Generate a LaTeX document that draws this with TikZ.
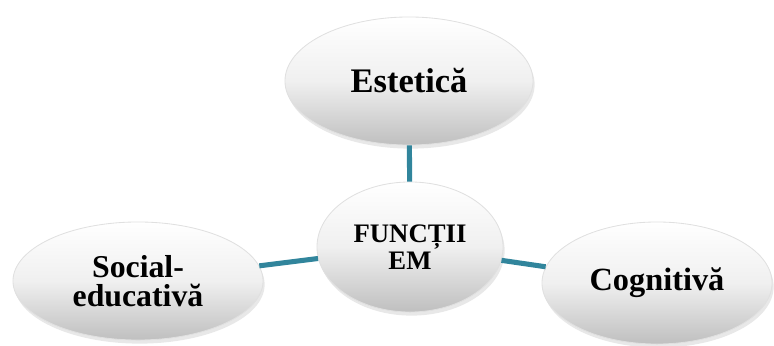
\documentclass[tikz,border=0pt]{standalone}
\usepackage{fontspec}
\setmainfont{Liberation Serif}
\usetikzlibrary{shapes.geometric,shadows}
\definecolor{linkteal}{RGB}{49,133,156}
\tikzstyle{bubble}=[ellipse,inner sep=0pt,align=center,font=\bfseries,
  top color=white,bottom color=black!25,middle color=black!6,
  draw=black!12,line width=0.6pt,
  drop shadow={opacity=0.18,shadow xshift=0.4mm,shadow yshift=-0.9mm}]
\tikzstyle{link}=[draw=linkteal,line width=3.6pt]

\begin{document}
\begin{tikzpicture}[x=0.025cm,y=-0.025cm]
                  \useasboundingbox (0,0) rectangle (774,346);

                  \node (em) at (410,247) [bubble,minimum width=4.65cm,minimum height=3.25cm,
                    font=\bfseries\fontsize{19}{19}\selectfont] {FUNCȚII\\EM};
                  \node (estetica) at (409,81) [bubble,minimum width=6.2cm,minimum height=3.2cm,
                    font=\bfseries\fontsize{24.5}{24}\selectfont] {Estetică};
                  \node (social) at (138,281) [bubble,minimum width=6.25cm,minimum height=2.95cm,
                    font=\bfseries\fontsize{22.6}{20.5}\selectfont] {Social-\\educativă};
                  \node (cognitiva) at (657,283) [bubble,minimum width=5.75cm,minimum height=3.05cm,
                    font=\bfseries\fontsize{23}{22}\selectfont] {Cognitivă};

                  \draw [link] (estetica) -- (em);
                  \draw [link] (social) -- (em);
                  \draw [link] (em) -- (cognitiva);
              \end{tikzpicture}
\end{document}
